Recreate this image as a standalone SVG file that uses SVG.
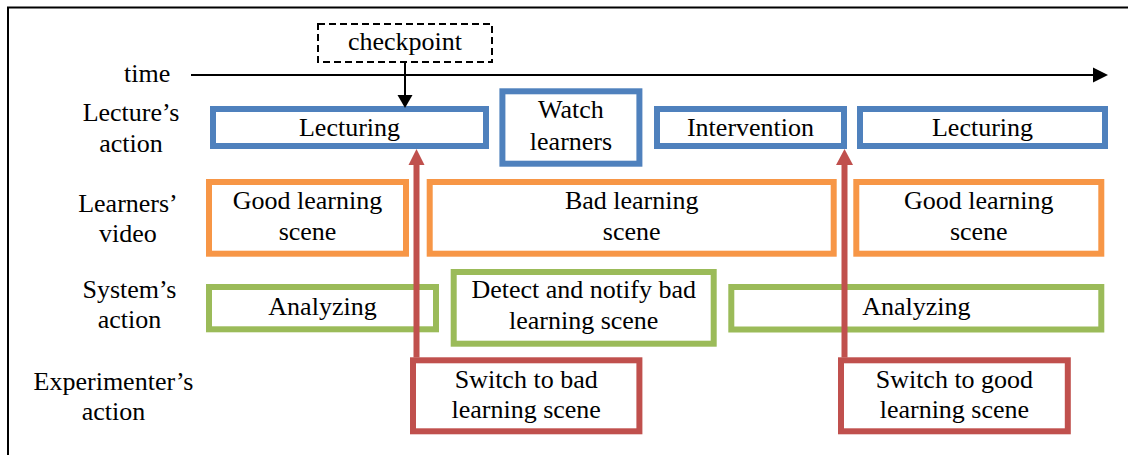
<svg xmlns="http://www.w3.org/2000/svg" width="1128" height="455" viewBox="0 0 1128 455">
<style>
text{font-family:"Liberation Serif","Times New Roman",serif;font-size:26px;fill:#000;text-anchor:middle}
.box{fill:#fff;stroke-width:6}
.blue{stroke:#4F81BD}
.orange{stroke:#F79646}
.green{stroke:#9BBB59}
.red{stroke:#C0504D}
</style>
<rect x="0" y="0" width="1128" height="455" fill="#fff"/>
<path d="M8,455 V7.5 H1128" fill="none" stroke="#000" stroke-width="2"/>
<g id="labels">
<text x="124" y="82" style="text-anchor:start">time</text>
<text x="131" y="120.7">Lecture’s</text>
<text x="131" y="151.7">action</text>
<text x="128" y="211.7">Learners’</text>
<text x="128" y="241.7">video</text>
<text x="129.5" y="298.3">System’s</text>
<text x="129.5" y="328.3">action</text>
<text x="113.5" y="390">Experimenter’s</text>
<text x="113.5" y="420">action</text>
</g>
<g id="timeline">
<line x1="191" y1="75" x2="1094" y2="75" stroke="#000" stroke-width="2"/>
<polygon points="1093,67.5 1108,75 1093,82.5" fill="#000"/>
</g>
<g id="checkpoint">
<rect x="318" y="24" width="174" height="38" fill="#fff" stroke="#000" stroke-width="2" stroke-dasharray="7,4"/>
<text x="405" y="50">checkpoint</text>
</g>
<g id="lecturing1"><rect class="box blue" x="213" y="109" width="273" height="37"/><text x="349.5" y="136">Lecturing</text></g>
<g id="watch"><rect class="box blue" x="502.4" y="91.3" width="137" height="72.4"/><text x="571" y="118.3">Watch</text><text x="571" y="150">learners</text></g>
<g id="intervention"><rect class="box blue" x="657" y="109" width="187" height="37"/><text x="750.5" y="136">Intervention</text></g>
<g id="lecturing2"><rect class="box blue" x="860" y="109" width="245" height="37"/><text x="982.5" y="136">Lecturing</text></g>
<g id="good1"><rect class="box orange" x="209" y="182" width="197" height="71.7"/><text x="307.5" y="209.3">Good learning</text><text x="307.5" y="240">scene</text></g>
<g id="bad"><rect class="box orange" x="429.7" y="182" width="404" height="71.7"/><text x="631.7" y="209.3">Bad learning</text><text x="631.7" y="240">scene</text></g>
<g id="good2"><rect class="box orange" x="856.3" y="182" width="245" height="71.7"/><text x="978.8" y="209.3">Good learning</text><text x="978.8" y="240">scene</text></g>
<g id="analyzing1"><rect class="box green" x="209" y="287" width="227" height="42.3"/><text x="322.5" y="315">Analyzing</text></g>
<g id="detect"><rect class="box green" x="453.7" y="272" width="260" height="71.7"/><text x="583.7" y="298.3">Detect and notify bad</text><text x="583.7" y="329.3">learning scene</text></g>
<g id="analyzing2"><rect class="box green" x="731.3" y="287" width="370" height="42.5"/><text x="916.3" y="315">Analyzing</text></g>
<g id="switchbad"><rect class="box red" x="413" y="360.3" width="226.4" height="71"/><text x="526.2" y="387.7">Switch to bad</text><text x="526.2" y="418.3">learning scene</text></g>
<g id="switchgood"><rect class="box red" x="841" y="360.3" width="226.8" height="71"/><text x="954.4" y="387.7">Switch to good</text><text x="954.4" y="418.3">learning scene</text></g>
<g id="connectors">
<line x1="405" y1="62" x2="405" y2="96" stroke="#000" stroke-width="2"/>
<polygon points="397.5,95 412.5,95 405,108" fill="#000"/>
<line x1="416.5" y1="357.5" x2="416.5" y2="164" stroke="#C0504D" stroke-width="6"/>
<polygon points="408.5,165 424.5,165 416.5,149" fill="#C0504D"/>
<line x1="844.5" y1="357.5" x2="844.5" y2="164" stroke="#C0504D" stroke-width="6"/>
<polygon points="836,165 853,165 844.5,149" fill="#C0504D"/>
</g>
</svg>
